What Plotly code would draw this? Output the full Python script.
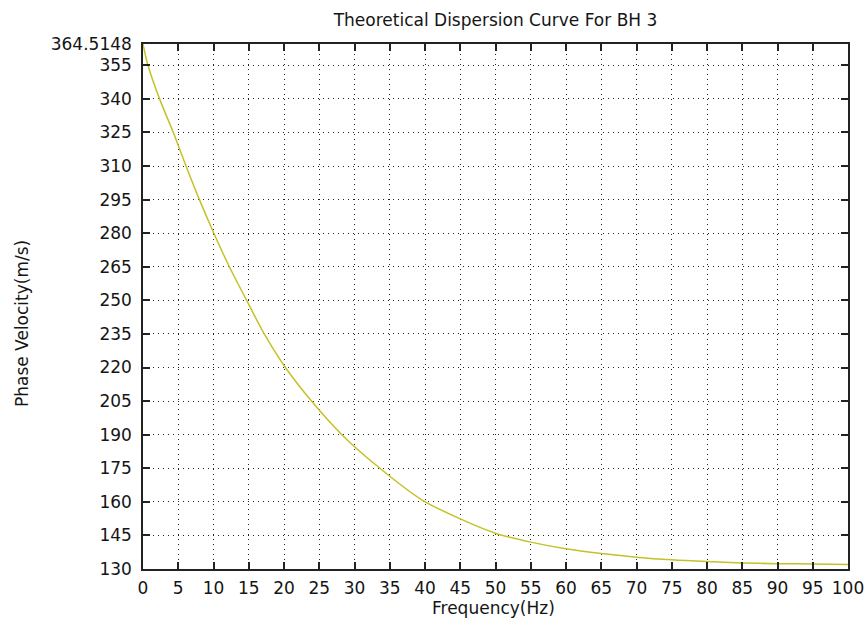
import plotly.graph_objects as go

freq = [0, 0.7, 2.35, 4.3, 6.1, 8.0, 10.05, 12.25, 14.7, 17.2, 20.2, 23.9, 28.2,
        33.6, 39.6, 45, 50, 55, 60, 65, 70, 75, 80, 85, 90, 95, 100]
velocity = [364.5148, 355, 340, 325, 310, 295, 280, 265, 250, 235, 220, 205, 190,
            175, 160.8, 152.4, 146.0, 142.0, 139.0, 136.9, 135.3, 134.1,
            133.3, 132.7, 132.4, 132.2, 132.0]

x_ticks = list(range(0, 101, 5))
y_ticks = list(range(130, 356, 15)) + [364.5148]
y_tick_text = [str(v) for v in range(130, 356, 15)] + ["364.5148"]

title_text = "Theoretical Dispersion Curve For BH 3"
x_title = "Frequency(Hz)"
y_title = "Phase Velocity(m/s)"

font_family = "DejaVu Sans, sans-serif"
text_color = "#151515"
fsize = 17

fig = go.Figure()
fig.add_trace(go.Scatter(
    x=freq, y=velocity, mode="lines",
    line=dict(color="#c4c228", width=1.5, shape="spline", smoothing=0.8),
    showlegend=False,
))

axis_common = dict(
    showline=True, linecolor="#222222", linewidth=1.5, mirror="ticks",
    ticks="inside", ticklen=7, tickcolor="#222222", tickwidth=1.5,
    showgrid=True, gridcolor="#222222", gridwidth=1.2, griddash="1px,4px",
    zeroline=False, automargin=False,
    tickfont=dict(family=font_family, size=fsize, color=text_color),
)

fig.update_layout(
    width=866, height=624,
    margin=dict(l=143, r=18, t=44, b=55, autoexpand=False),
    paper_bgcolor="white", plot_bgcolor="white",
    font=dict(family=font_family, color=text_color),
    title=dict(text=title_text, x=0.5, xref="paper", xanchor="center",
               y=1 - 20 / 624, yref="container", yanchor="middle",
               font=dict(size=fsize, family=font_family, color=text_color)),
    xaxis=dict(range=[0, 100], tickvals=x_ticks, ticklabelstandoff=3,
               **axis_common),
    yaxis=dict(range=[130, 364.5148], tickvals=y_ticks, ticktext=y_tick_text,
               ticklabelstandoff=6,
               **axis_common),
    annotations=[
        dict(text=x_title, xref="paper", yref="paper",
             x=0.497, y=-(608 - 569) / 525, xanchor="center", yanchor="middle",
             showarrow=False, font=dict(size=fsize, family=font_family, color=text_color)),
        dict(text=y_title, xref="paper", yref="paper", textangle=-90,
             x=(21.7 - 142.7) / 705.3, y=(569 - 324) / 525, xanchor="center", yanchor="middle",
             showarrow=False, font=dict(size=fsize, family=font_family, color=text_color)),
    ],
)

fig.write_html("out.html")
